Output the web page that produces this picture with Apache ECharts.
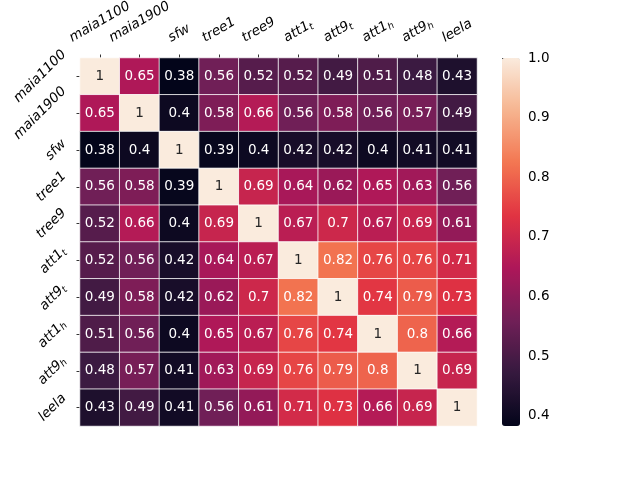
<!DOCTYPE html>
<html>
<head>
<meta charset="utf-8">
<script src="https://cdn.jsdelivr.net/npm/echarts@6/dist/echarts.min.js"></script>
<style>
    html, body { margin: 0; padding: 0; background: #fff; }
    #chart { width: 640px; height: 480px; }
</style>
</head>
<body>
<div id="chart"></div>
<script>
    // names, "_x" = subscript
    var labels = ['maia1100', 'maia1900', 'sfw', 'tree1', 'tree9', 'att1_t', 'att9_t', 'att1_h', 'att9_h', 'leela'];

    // correlation rows, top to bottom
    var rowMaia1100 = [1, 0.65, 0.38, 0.56, 0.52, 0.52, 0.49, 0.51, 0.48, 0.43];
    var rowMaia1900 = [0.65, 1, 0.4, 0.58, 0.66, 0.56, 0.58, 0.56, 0.57, 0.49];
    var rowSfw = [0.38, 0.4, 1, 0.39, 0.4, 0.42, 0.42, 0.4, 0.41, 0.41];
    var rowTree1 = [0.56, 0.58, 0.39, 1, 0.69, 0.64, 0.62, 0.65, 0.63, 0.56];
    var rowTree9 = [0.52, 0.66, 0.4, 0.69, 1, 0.67, 0.7, 0.67, 0.69, 0.61];
    var rowAtt1t = [0.52, 0.56, 0.42, 0.64, 0.67, 1, 0.82, 0.76, 0.76, 0.71];
    var rowAtt9t = [0.49, 0.58, 0.42, 0.62, 0.7, 0.82, 1, 0.74, 0.79, 0.73];
    var rowAtt1h = [0.51, 0.56, 0.4, 0.65, 0.67, 0.76, 0.74, 1, 0.8, 0.66];
    var rowAtt9h = [0.48, 0.57, 0.41, 0.63, 0.69, 0.76, 0.79, 0.8, 1, 0.69];
    var rowLeela = [0.43, 0.49, 0.41, 0.56, 0.61, 0.71, 0.73, 0.66, 0.69, 1];

    var barTicks = [0.4, 0.5, 0.6, 0.7, 0.8, 0.9, 1.0];
    var vMin = 0.383;
    var vMax = 1.0;

    // seaborn "rocket"
    var rocket = ['#03051a', '#35193e', '#701f57', '#ad1759', '#e13342', '#f37651', '#f6b48f', '#faebdd'];

    var rows = [rowMaia1100, rowMaia1900, rowSfw, rowTree1, rowTree9, rowAtt1t, rowAtt9t, rowAtt1h, rowAtt9h, rowLeela];

    var FONT = '"DejaVu Sans", sans-serif';
    var FS = 13.5;
    var SUB = 9.5;

    // measure label widths so the rotated labels can be lined up like matplotlib
    var ctx = document.createElement('canvas').getContext('2d');
    function textW(s, size) {
        ctx.font = 'italic ' + size + 'px "DejaVu Sans"';
        return ctx.measureText(s).width;
    }
    function labelW(name) {
        var p = name.split('_');
        return textW(p[0], FS) + (p[1] ? textW(p[1], SUB) : 0);
    }
    function fmtLabel(name) {
        var p = name.split('_');
        return p[1] ? '{m|' + p[0] + '}{s|' + p[1] + '}' : '{m|' + p[0] + '}';
    }

    var rich = {
        m: { fontSize: FS, fontStyle: 'italic', fontFamily: FONT, color: '#000' },
        s: { fontSize: SUB, fontStyle: 'italic', fontFamily: FONT, color: '#000', padding: [6, 0, 0, 0] }
    };

    // per label padding: shifts the centred, rotated text so its box lines up
    // top labels at 30deg: box bottom on one line
    var xData = labels.map(function(n) {
        var w = labelW(n);
        return { value: n, textStyle: { align: 'center', verticalAlign: 'middle', padding: [0, 0, 0.433 * w, 0.25 * w] } };
    });
    // left labels at 45deg: box right edge on one line
    var yData = labels.map(function(n) {
        var w = labelW(n);
        return { value: n, textStyle: { align: 'center', verticalAlign: 'middle', padding: [0, 0.5 * w, 0.5 * w, 0] } };
    });

    var cells = [];
    for (var r = 0; r < rows.length; r++) {
        for (var c = 0; c < rows[r].length; c++) {
            var v = rows[r][c];
            cells.push({
                value: [c, r, v],
                label: { color: v >= 0.95 ? '#262626' : '#ffffff' }
            });
        }
    }

    var tickStyle = { color: '#000', width: 0.8 };
    var hiddenLine = { show: true, lineStyle: { color: 'rgba(0,0,0,0)', width: 0 } };

    var myChart = echarts.init(document.getElementById('chart'));
    var option = {
        animation: false,
        textStyle: { fontFamily: FONT },
        grid: [
            { left: 80, top: 58, width: 397, height: 368, outerBoundsMode: 'none', containLabel: false },
            { left: 502, top: 58, width: 18, height: 368, outerBoundsMode: 'none', containLabel: false }
        ],
        xAxis: [{
            type: 'category',
            gridIndex: 0,
            position: 'top',
            data: xData,
            axisLine: hiddenLine,
            axisTick: { show: true, alignWithLabel: true, length: 3.5, lineStyle: tickStyle },
            axisLabel: {
                interval: 0, rotate: -30, align: 'center', verticalAlign: 'middle',
                margin: 19, formatter: fmtLabel, rich: rich
            },
            splitLine: { show: false }
        }, {
            type: 'value',
            gridIndex: 1,
            show: false
        }],
        yAxis: [{
            type: 'category',
            gridIndex: 0,
            inverse: true,
            data: yData,
            axisLine: hiddenLine,
            axisTick: { show: true, alignWithLabel: true, length: 3.5, lineStyle: tickStyle },
            axisLabel: {
                interval: 0, rotate: 45, align: 'center', verticalAlign: 'middle',
                margin: 16, formatter: fmtLabel, rich: rich
            },
            splitLine: { show: false }
        }, {
            type: 'value',
            gridIndex: 1,
            position: 'right',
            min: vMin,
            max: vMax,
            axisLine: hiddenLine,
            splitLine: { show: false },
            axisTick: { show: true, length: 3.5, customValues: barTicks, lineStyle: tickStyle },
            axisLabel: {
                customValues: barTicks,
                color: '#000',
                fontSize: FS,
                margin: 8,
                formatter: function(v) { return v.toFixed(1); }
            }
        }],
        visualMap: {
            type: 'continuous',
            seriesIndex: 0,
            min: vMin,
            max: vMax,
            calculable: false,
            hoverLink: false,
            left: 502,
            top: 58,
            itemWidth: 18,
            itemHeight: 368,
            padding: 0,
            text: null,
            inRange: { color: rocket }
        },
        series: [{
            type: 'heatmap',
            xAxisIndex: 0,
            yAxisIndex: 0,
            data: cells,
            label: {
                show: true,
                fontSize: FS,
                fontFamily: FONT,
                formatter: function(p) { return String(p.value[2]); }
            },
            itemStyle: { borderColor: '#ffffff', borderWidth: 0.8 },
            emphasis: { disabled: true }
        }]
    };
    myChart.setOption(option);
</script>
</body>
</html>
